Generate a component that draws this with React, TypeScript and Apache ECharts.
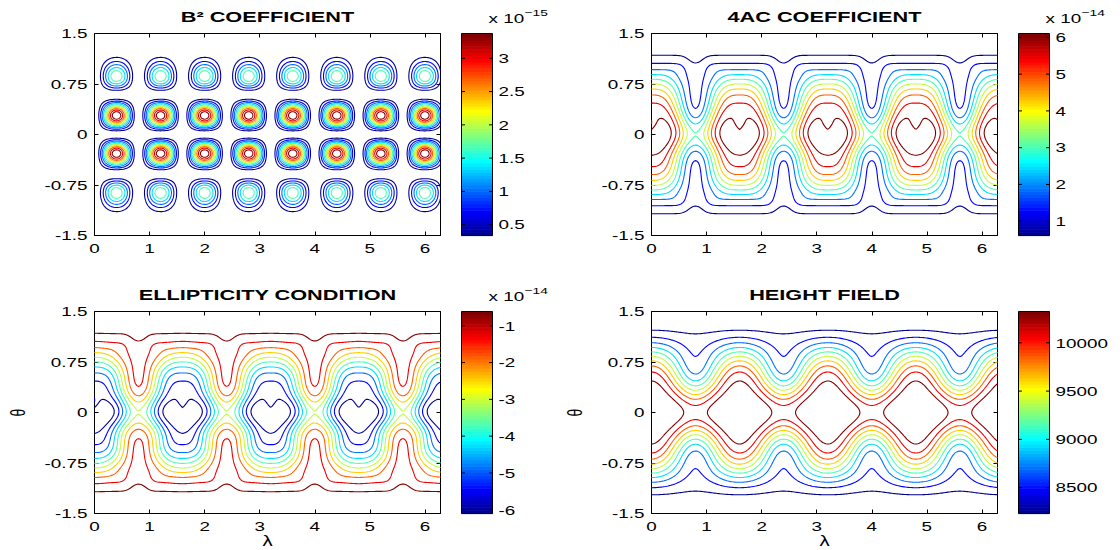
import React, { useEffect, useRef } from "react";
import * as echarts from "echarts";

// ---------------- axes, ticks and labels ----------------
const X_TICKS = [0, 1, 2, 3, 4, 5, 6];
const X_TICK_LABELS = ["0", "1", "2", "3", "4", "5", "6"];
const Y_TICKS = [-1.5, -0.75, 0, 0.75, 1.5];
const Y_TICK_LABELS = ["-1.5", "-0.75", "0", "0.75", "1.5"];
const LAMBDA_MIN = 0;
const LAMBDA_MAX = 2 * Math.PI;
const THETA_MIN = -1.5;
const THETA_MAX = 1.5;

const TITLES = ["B² COEFFICIENT", "4AC COEFFICIENT", "ELLIPTICITY CONDITION", "HEIGHT FIELD"];
const EXPONENTS = ["−15", "−14", "−14", ""];
const CB_TICKS_B2 = [0.5, 1, 1.5, 2, 2.5, 3];
const CB_LABELS_B2 = ["0.5", "1", "1.5", "2", "2.5", "3"];
const CB_TICKS_AC = [1, 2, 3, 4, 5, 6];
const CB_LABELS_AC = ["1", "2", "3", "4", "5", "6"];
const CB_TICKS_E = [-6, -5, -4, -3, -2, -1];
const CB_LABELS_E = ["-6", "-5", "-4", "-3", "-2", "-1"];
const CB_TICKS_H = [8500, 9000, 9500, 10000];
const CB_LABELS_H = ["8500", "9000", "9500", "10000"];
const N_LEVELS = 10; // ten contour levels per panel

// ---------------- field model (Rossby–Haurwitz wave, wavenumber 4) ----------------
const N_LAMBDA = 253;
const N_THETA = 161;
const WAVE_PERIOD = 1.6; // λ-period of the pattern
const THETA_TRUE_SCALE = Math.PI / 2 / 1.5; // plotted ±1.5 spans pole to pole
const RH = { omega: 7.848e-6, K: 7.848e-6, R: 4, h0: 8000, a: 6.37122e6, Omega: 7.292e-5, g: 9.80616 };
// B² coefficient (×1e-15): peak value and extra cos-weight of the mixed derivative
const B2_PEAK = 3.71;
const B2_EXTRA_COS = 0.8;
// 4AC coefficient (×1e-14): meridional profiles through hearts and through saddles
const AC = {
  heartPeak: 6.0, heartWidth: 0.9164, heartPower: 3.6,
  bump: 0.75, bumpWidth: 0.25, shift: 0.01, shiftWidth: 0.6,
  tail: 0.12, tailTheta: 1.12, tailWidth: 0.12,
  saddleCore: 2.07, saddleCoreWidth: 0.26,
  plateau: 1.0, plateauEdge: 1.09, plateauEdgeWidth: 0.06,
  nBase: 1.45, nEq: 0.7, nCenter: 0.15, nWidth: 0.3, nHigh: 7, nHighTheta: 1.15, nHighWidth: 0.15,
  dimple: 0.98, dimpleTheta: 0.16, dimpleThetaWidth: 0.12, dimpleLamScale: 0.081,
  ridge: 0.06, ridgeTheta: -0.26, ridgeThetaWidth: 0.08, ridgeLamScale: 0.06,
};

// ---------------- layout ----------------
const FONT = "'Liberation Sans', Arial, Helvetica, sans-serif";
const TICK_FONT = 13;
const TICK_SX = 1.45;
const TITLE_FONT = 14;
const TITLE_SX = 1.55;
const PLOT_W = 346;
const PLOT_H = 202;
const PANEL_POS: [number, number][] = [
  [94.5, 33.5],
  [651.5, 33.5],
  [94.5, 311.5],
  [651.5, 311.5],
];
const CB_DX = 367;
const CB_W = 31;

// ---------------- MATLAB jet(64) ----------------
function jet64(): string[] {
  const m = 64, n = 16;
  const u: number[] = [];
  for (let k = 1; k <= n; k++) u.push(k / n);
  for (let k = 1; k < n; k++) u.push(1);
  for (let k = n; k >= 1; k--) u.push(k / n);
  const gOff = Math.ceil(n / 2) - (m % 4 === 1 ? 1 : 0);
  const out: string[] = [];
  for (let idx = 1; idx <= m; idx++) {
    const rgb = [0, 0, 0];
    for (let k = 1; k <= u.length; k++) {
      const gi = gOff + k, ri = gi + n, bi = gi - n;
      if (ri === idx) rgb[0] = u[k - 1];
      if (gi === idx) rgb[1] = u[k - 1];
      if (bi === idx) rgb[2] = u[k - 1];
    }
    out.push(`rgb(${Math.round(rgb[0] * 255)},${Math.round(rgb[1] * 255)},${Math.round(rgb[2] * 255)})`);
  }
  return out;
}
const JET = jet64();

// ---------------- fields ----------------
function heightField(l: number, tPlot: number): number {
  const { omega, K, R, h0, a, Omega, g } = RH;
  const t = tPlot * THETA_TRUE_SCALE;
  const c = Math.max(Math.cos(t), 1e-9);
  const c2 = c * c;
  const phi = (2 * Math.PI * l) / WAVE_PERIOD;
  const A = (omega / 2) * (2 * Omega + omega) * c2 +
    0.25 * K * K * Math.pow(c, 2 * R) * ((R + 1) * c2 + (2 * R * R - R - 2) - (2 * R * R) / c2);
  const B = ((2 * (Omega + omega) * K) / ((R + 1) * (R + 2))) * Math.pow(c, R) *
    (R * R + 2 * R + 2 - (R + 1) * (R + 1) * c2);
  const C = 0.25 * K * K * Math.pow(c, 2 * R) * ((R + 1) * c2 - (R + 2));
  return h0 + ((a * a) / g) * (A + B * Math.cos(phi) + C * Math.cos(2 * phi));
}

function b2Shape(t: number): number {
  const R = RH.R;
  const c = Math.cos(t), s = Math.sin(t);
  return s * Math.pow(c, R - 1 + B2_EXTRA_COS) * (R * (R * R + 2 * R + 2) - (R + 2) * (R + 1) * (R + 1) * c * c);
}
let B2_GMAX = 0;
for (let k = 0; k <= 3000; k++) {
  const t = -1.5 + (3 * k) / 3000;
  B2_GMAX = Math.max(B2_GMAX, Math.abs(b2Shape(t)));
}
function b2Field(l: number, t: number): number {
  const phi = (2 * Math.PI * l) / WAVE_PERIOD;
  const v = (Math.sin(phi) * b2Shape(t)) / B2_GMAX;
  return B2_PEAK * v * v;
}

function acField(l: number, t: number): number {
  const phi = (2 * Math.PI * l) / WAVE_PERIOD;
  const at = Math.abs(t);
  const th = t + AC.shift * Math.exp(-((t / AC.shiftWidth) ** 2));
  const Ph = AC.heartPeak * Math.exp(-Math.pow(Math.abs(th) / AC.heartWidth, AC.heartPower)) +
    AC.bump * Math.exp(-((th / AC.bumpWidth) ** 2)) +
    AC.tail * Math.exp(-(((at - AC.tailTheta) / AC.tailWidth) ** 2));
  const Ps = AC.saddleCore * Math.exp(-((t / AC.saddleCoreWidth) ** 2)) +
    AC.plateau / (1 + Math.exp((at - AC.plateauEdge) / AC.plateauEdgeWidth));
  const u = (1 + Math.cos(phi)) / 2;
  const n = AC.nBase + AC.nEq * Math.exp(-(((t - AC.nCenter) / AC.nWidth) ** 2)) +
    AC.nHigh * Math.exp(-(((at - AC.nHighTheta) / AC.nHighWidth) ** 2));
  const w = 1 - Math.pow(1 - u, n);
  let ph = phi % (2 * Math.PI);
  if (ph > Math.PI) ph -= 2 * Math.PI;
  const dl = (Math.abs(ph) * WAVE_PERIOD) / (2 * Math.PI);
  const D = AC.dimple * Math.exp(-(((t - AC.dimpleTheta) / AC.dimpleThetaWidth) ** 2)) *
    Math.exp(-dl / AC.dimpleLamScale);
  const Rg = AC.ridge * Math.exp(-(((t - AC.ridgeTheta) / AC.ridgeThetaWidth) ** 2)) *
    Math.exp(-dl / AC.ridgeLamScale);
  return Ps + (Ph - Ps) * w - D + Rg;
}

// ---------------- marching squares ----------------
type Pt = [number, number];
function contourLines(f: Float64Array, xs: number[], ys: number[], level: number): Pt[][] {
  const nx = xs.length, ny = ys.length;
  const VOFF = nx * ny;
  const adj = new Map<number, number[]>();
  const pts = new Map<number, Pt>();
  const val = (i: number, j: number) => f[j * nx + i];
  const ensure = (e: number) => {
    if (pts.has(e)) return;
    if (e < VOFF) {
      const j = Math.floor(e / nx), i = e % nx;
      const v0 = val(i, j), v1 = val(i + 1, j);
      const t = (level - v0) / (v1 - v0);
      pts.set(e, [xs[i] + t * (xs[i + 1] - xs[i]), ys[j]]);
    } else {
      const ee = e - VOFF;
      const j = Math.floor(ee / nx), i = ee % nx;
      const v0 = val(i, j), v1 = val(i, j + 1);
      const t = (level - v0) / (v1 - v0);
      pts.set(e, [xs[i], ys[j] + t * (ys[j + 1] - ys[j])]);
    }
  };
  const link = (a: number, b: number) => {
    ensure(a);
    ensure(b);
    if (!adj.has(a)) adj.set(a, []);
    if (!adj.has(b)) adj.set(b, []);
    adj.get(a)!.push(b);
    adj.get(b)!.push(a);
  };
  for (let j = 0; j < ny - 1; j++) {
    for (let i = 0; i < nx - 1; i++) {
      const a = val(i, j), b = val(i + 1, j), c = val(i + 1, j + 1), d = val(i, j + 1);
      let code = 0;
      if (a > level) code |= 1;
      if (b > level) code |= 2;
      if (c > level) code |= 4;
      if (d > level) code |= 8;
      if (code === 0 || code === 15) continue;
      const e0 = j * nx + i;
      const e1 = VOFF + j * nx + i + 1;
      const e2 = (j + 1) * nx + i;
      const e3 = VOFF + j * nx + i;
      const center = (a + b + c + d) / 4;
      switch (code) {
        case 1: case 14: link(e3, e0); break;
        case 2: case 13: link(e0, e1); break;
        case 3: case 12: link(e3, e1); break;
        case 4: case 11: link(e1, e2); break;
        case 6: case 9: link(e0, e2); break;
        case 7: case 8: link(e3, e2); break;
        case 5:
          if (center > level) { link(e0, e1); link(e2, e3); } else { link(e3, e0); link(e1, e2); }
          break;
        case 10:
          if (center > level) { link(e3, e0); link(e1, e2); } else { link(e0, e1); link(e2, e3); }
          break;
      }
    }
  }
  const visited = new Set<number>();
  const lines: Pt[][] = [];
  const walk = (start: number) => {
    const line: Pt[] = [pts.get(start)!];
    visited.add(start);
    let prev = -1, cur = start;
    for (;;) {
      const nb = adj.get(cur)!;
      let next = -1;
      for (const q of nb) if (!visited.has(q)) { next = q; break; }
      if (next < 0) {
        if (nb.indexOf(start) >= 0 && prev !== start && line.length > 2) line.push(pts.get(start)!);
        break;
      }
      visited.add(next);
      line.push(pts.get(next)!);
      prev = cur;
      cur = next;
    }
    if (line.length > 1) lines.push(line);
  };
  adj.forEach((nb, e) => { if (nb.length === 1 && !visited.has(e)) walk(e); });
  adj.forEach((_nb, e) => { if (!visited.has(e)) walk(e); });
  return lines;
}

// ---------------- option ----------------
function buildOption() {
  const lam = Array.from({ length: N_LAMBDA }, (_, i) => LAMBDA_MIN + ((LAMBDA_MAX - LAMBDA_MIN) * i) / (N_LAMBDA - 1));
  const th = Array.from({ length: N_THETA }, (_, j) => THETA_MIN + ((THETA_MAX - THETA_MIN) * j) / (N_THETA - 1));
  const sample = (fn: (l: number, t: number) => number) => {
    const f = new Float64Array(N_LAMBDA * N_THETA);
    for (let j = 0; j < N_THETA; j++) for (let i = 0; i < N_LAMBDA; i++) f[j * N_LAMBDA + i] = fn(lam[i], th[j]);
    return f;
  };
  const fB2 = sample(b2Field);
  const fAC = sample(acField);
  const fE = new Float64Array(fB2.length);
  for (let k = 0; k < fE.length; k++) fE[k] = 0.1 * fB2[k] - fAC[k];
  const fH = sample(heightField);

  const fields = [fB2, fAC, fE, fH];
  const cbTicks = [CB_TICKS_B2, CB_TICKS_AC, CB_TICKS_E, CB_TICKS_H];
  const cbLabels = [CB_LABELS_B2, CB_LABELS_AC, CB_LABELS_E, CB_LABELS_H];

  const grids: any[] = [];
  const xAxes: any[] = [];
  const yAxes: any[] = [];
  const series: any[] = [];
  const graphic: any[] = [];

  const tick = { show: true, inside: true, length: 4, lineStyle: { color: "#000", width: 1 } };
  const noLine = { show: false, onZero: false };

  fields.forEach((f, p) => {
    const [left, top] = PANEL_POS[p];
    let mn = Infinity, mx = -Infinity;
    for (let k = 0; k < f.length; k++) { if (f[k] < mn) mn = f[k]; if (f[k] > mx) mx = f[k]; }
    const levels = Array.from({ length: N_LEVELS }, (_, k) => mn + ((k + 1) * (mx - mn)) / (N_LEVELS + 1));
    const cmin = levels[0], cmax = levels[N_LEVELS - 1];
    const lines: { pts: Pt[]; color: string }[] = [];
    levels.forEach((L) => {
      const idx = Math.min(64, Math.floor(((L - cmin) / (cmax - cmin)) * 64) + 1);
      const color = JET[idx - 1];
      contourLines(f, lam, th, L).forEach((pts) => lines.push({ pts, color }));
    });

    const gPlot = 2 * p, gCb = 2 * p + 1;
    const xB = 3 * p, xC = 3 * p + 2;
    const yL = 3 * p, yC = 3 * p + 2;
    const cbLeft = left + CB_DX;

    grids.push({ left, top, width: PLOT_W, height: PLOT_H, show: true, borderColor: "#000", borderWidth: 1, backgroundColor: "transparent" });
    grids.push({ left: cbLeft, top, width: CB_W, height: PLOT_H, show: false });

    xAxes.push({ gridIndex: gPlot, type: "value", min: LAMBDA_MIN, max: LAMBDA_MAX, interval: 1, position: "bottom",
      axisLine: noLine, axisTick: tick, axisLabel: { show: false }, splitLine: { show: false } });
    xAxes.push({ gridIndex: gPlot, type: "value", min: LAMBDA_MIN, max: LAMBDA_MAX, interval: 1, position: "top",
      axisLine: noLine, axisTick: tick, axisLabel: { show: false }, splitLine: { show: false } });
    xAxes.push({ gridIndex: gCb, type: "value", min: 0, max: 1, show: false });
    yAxes.push({ gridIndex: gPlot, type: "value", min: THETA_MIN, max: THETA_MAX, interval: 0.75, position: "left",
      axisLine: noLine, axisTick: tick, axisLabel: { show: false }, splitLine: { show: false } });
    yAxes.push({ gridIndex: gPlot, type: "value", min: THETA_MIN, max: THETA_MAX, interval: 0.75, position: "right",
      axisLine: noLine, axisTick: tick, axisLabel: { show: false }, splitLine: { show: false } });
    yAxes.push({ gridIndex: gCb, type: "value", min: cmin, max: cmax, show: false });

    series.push({
      type: "custom", xAxisIndex: xB, yAxisIndex: yL, silent: true, clip: false,
      data: lines.map((_l, i) => [LAMBDA_MIN, THETA_MIN, i]),
      renderItem: (_params: any, api: any) => {
        const ln = lines[api.value(2)];
        return {
          type: "polyline",
          shape: { points: ln.pts.map((q) => api.coord(q)) },
          style: { stroke: ln.color, lineWidth: 1.1, fill: null },
        };
      },
    });
    series.push({
      type: "custom", xAxisIndex: xB, yAxisIndex: yL, silent: true, clip: false,
      data: X_TICKS.map((v, i) => [v, THETA_MIN, i]),
      renderItem: (_params: any, api: any) => {
        const q = api.coord([api.value(0), api.value(1)]);
        return {
          type: "text", x: q[0], y: q[1] + 12.5, scaleX: TICK_SX,
          style: { text: X_TICK_LABELS[api.value(2)], fill: "#000", fontSize: TICK_FONT, fontFamily: FONT,
            align: "center", verticalAlign: "middle", textAlign: "center", textVerticalAlign: "middle" },
        };
      },
    });
    series.push({
      type: "custom", xAxisIndex: xB, yAxisIndex: yL, silent: true, clip: false,
      data: Y_TICKS.map((v, i) => [LAMBDA_MIN, v, i]),
      renderItem: (_params: any, api: any) => {
        const q = api.coord([api.value(0), api.value(1)]);
        return {
          type: "text", x: q[0] - 7, y: q[1], scaleX: TICK_SX,
          style: { text: Y_TICK_LABELS[api.value(2)], fill: "#000", fontSize: TICK_FONT, fontFamily: FONT,
            align: "right", verticalAlign: "middle", textAlign: "right", textVerticalAlign: "middle" },
        };
      },
    });

    const bands = JET.map((_c, k) => [0, cmin + ((cmax - cmin) * k) / 64, cmin + ((cmax - cmin) * (k + 1)) / 64, k]);
    series.push({
      type: "custom", xAxisIndex: xC, yAxisIndex: yC, silent: true, clip: false,
      data: bands,
      renderItem: (_params: any, api: any) => {
        const p0 = api.coord([0, api.value(1)]);
        const p1 = api.coord([1, api.value(2)]);
        return {
          type: "rect",
          shape: { x: p0[0], y: p1[1], width: p1[0] - p0[0], height: p0[1] - p1[1] + 0.6 },
          style: { fill: JET[api.value(3)] },
        };
      },
    });
    const ticks = cbTicks[p], labels = cbLabels[p];
    series.push({
      type: "custom", xAxisIndex: xC, yAxisIndex: yC, silent: true, clip: false,
      data: ticks.map((v, i) => [0, v, i]),
      renderItem: (_params: any, api: any) => {
        const a = api.coord([0, api.value(1)]);
        const b = api.coord([1, api.value(1)]);
        return {
          type: "group",
          children: [
            { type: "line", shape: { x1: a[0], y1: a[1], x2: a[0] + 3.5, y2: a[1] }, style: { stroke: "#000", lineWidth: 1 } },
            { type: "line", shape: { x1: b[0] - 3.5, y1: b[1], x2: b[0], y2: b[1] }, style: { stroke: "#000", lineWidth: 1 } },
            {
              type: "text", x: b[0] + 6, y: b[1], scaleX: TICK_SX,
              style: { text: labels[api.value(2)], fill: "#000", fontSize: TICK_FONT, fontFamily: FONT,
                align: "left", verticalAlign: "middle", textAlign: "left", textVerticalAlign: "middle" },
            },
          ],
        };
      },
    });
    series.push({
      type: "custom", xAxisIndex: xC, yAxisIndex: yC, silent: true, clip: false,
      data: [[0, cmin]],
      renderItem: (_params: any, api: any) => {
        const a = api.coord([0, cmax]);
        const b = api.coord([1, cmin]);
        return {
          type: "rect", shape: { x: a[0], y: a[1], width: b[0] - a[0], height: b[1] - a[1] },
          style: { fill: null, stroke: "#000", lineWidth: 1 },
        };
      },
    });

    graphic.push({
      type: "text", x: left + PLOT_W / 2, y: top - 16, scaleX: TITLE_SX,
      style: { text: TITLES[p], fill: "#000", fontSize: TITLE_FONT, fontWeight: "bold", fontFamily: FONT,
        align: "center", verticalAlign: "middle", textAlign: "center", textVerticalAlign: "middle" },
    });
    if (EXPONENTS[p]) {
      graphic.push({
        type: "text", x: cbLeft + CB_W - 4, y: top - 15, scaleX: TICK_SX,
        style: { text: "x 10", fill: "#000", fontSize: TICK_FONT, fontFamily: FONT,
          align: "left", verticalAlign: "middle", textAlign: "left", textVerticalAlign: "middle" },
      });
      graphic.push({
        type: "text", x: cbLeft + CB_W - 4 + 36, y: top - 21, scaleX: TICK_SX,
        style: { text: EXPONENTS[p], fill: "#000", fontSize: 9.5, fontFamily: FONT,
          align: "left", verticalAlign: "middle", textAlign: "left", textVerticalAlign: "middle" },
      });
    }
    if (p >= 2) {
      graphic.push({
        type: "text", x: left + PLOT_W / 2, y: top + PLOT_H + 28, scaleX: TICK_SX,
        style: { text: "λ", fill: "#000", fontSize: 14, fontFamily: FONT,
          align: "center", verticalAlign: "middle", textAlign: "center", textVerticalAlign: "middle" },
      });
      graphic.push({
        type: "text", x: left - 76, y: top + PLOT_H / 2, rotation: Math.PI / 2, scaleX: 1, scaleY: TICK_SX,
        style: { text: "θ", fill: "#000", fontSize: 14, fontFamily: FONT,
          align: "center", verticalAlign: "middle", textAlign: "center", textVerticalAlign: "middle" },
      });
    }
  });

  return {
    animation: false,
    backgroundColor: "#fff",
    grid: grids,
    xAxis: xAxes,
    yAxis: yAxes,
    series,
    graphic: { elements: graphic },
  };
}

export default function App() {
  const ref = useRef<HTMLDivElement>(null);
  useEffect(() => {
    document.body.style.margin = "0";
    const chart = echarts.init(ref.current as HTMLDivElement, undefined, { renderer: "svg" });
    chart.setOption(buildOption() as any);
    return () => chart.dispose();
  }, []);
  return <div ref={ref} style={{ width: 1120, height: 550 }} />;
}
